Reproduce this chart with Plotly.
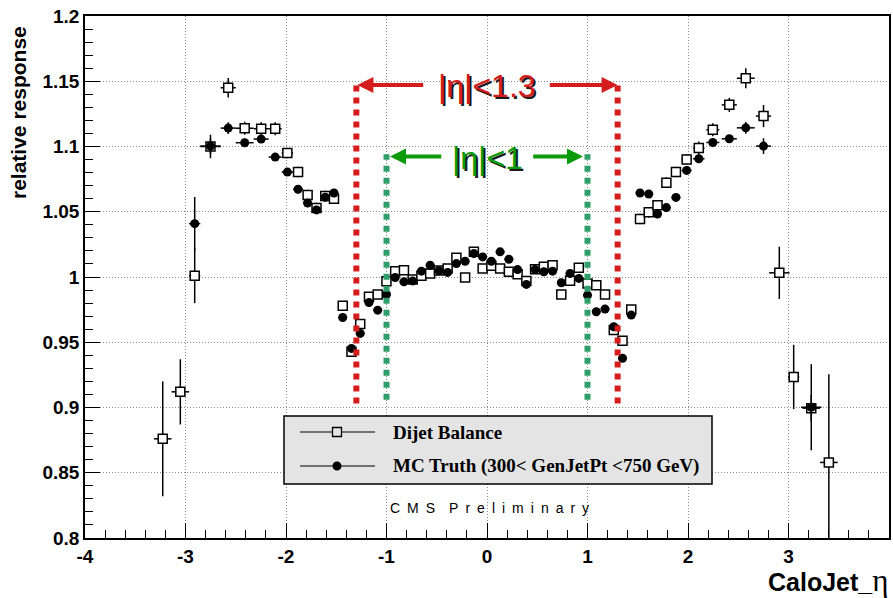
import plotly.graph_objects as go

# ---------------- data ----------------
eta_db = [-3.2265, -3.0515, -2.9085, -2.7515, -2.575, -2.411, -2.247, -2.1075, -1.9865, -1.88,
          -1.785, -1.6965, -1.6095, -1.5225, -1.4355, -1.3485, -1.2615, -1.1745, -1.0875, -1.0005,
          -0.9135, -0.8265, -0.7395, -0.6525, -0.5655, -0.4785, -0.3915, -0.3045, -0.2175, -0.1305,
          -0.0435, 0.0435, 0.1305, 0.2175, 0.3045, 0.3915, 0.4785, 0.5655, 0.6525, 0.7395,
          0.8265, 0.9135, 1.0005, 1.0875, 1.1745, 1.2615, 1.3485, 1.4355, 1.5225, 1.6095,
          1.6965, 1.785, 1.88, 1.9865, 2.1075, 2.247, 2.411, 2.575, 2.7515, 2.9085,
          3.0515, 3.2265, 3.4015]
resp_db = [0.876, 0.912, 1.001, 1.100, 1.145, 1.114, 1.1136, 1.1136, 1.095, 1.0804,
           1.0628, 1.0529, 1.0621, 1.060, 0.978, 0.9428, 0.9639, 0.9849, 0.9866, 0.9968,
           1.0045, 1.0052, 0.9981, 1.001, 1.0027, 1.005, 1.0065, 1.0147, 0.9996, 1.0193,
           1.0065, 1.0086, 1.0065, 1.004, 1.0022, 0.997, 1.006, 1.0078, 1.009, 0.9866,
           0.9971, 1.0071, 0.995, 0.9937, 0.9866, 0.9593, 0.9512, 0.9751, 1.0445, 1.0496,
           1.0549, 1.0723, 1.0804, 1.0901, 1.0988, 1.1128, 1.1319, 1.1523, 1.1233, 1.0032,
           0.9234, 0.8995, 0.8579]
err_db = [0.044, 0.025, 0.021, 0.009, 0.0074, 0.005, 0.005, 0.005, 0.004, 0.004,
          0.004, 0.004, 0.004, 0.004, 0.003, 0.003, 0.003, 0.003, 0.003, 0.003,
          0.003, 0.003, 0.003, 0.003, 0.003, 0.003, 0.003, 0.003, 0.003, 0.003,
          0.003, 0.003, 0.003, 0.003, 0.003, 0.003, 0.003, 0.003, 0.003, 0.003,
          0.003, 0.003, 0.003, 0.003, 0.003, 0.003, 0.003, 0.003, 0.004, 0.004,
          0.004, 0.004, 0.004, 0.004, 0.005, 0.005, 0.0054, 0.0077, 0.0085, 0.020,
          0.0246, 0.010, 0.0676]
xerr_db = [0.0875, 0.0875, 0.0555, 0.1015, 0.075, 0.089, 0.075, 0.0645, 0.0565, 0.05,
           0.045] + [0.0435] * 41 + [0.045, 0.05, 0.0565, 0.0645, 0.075, 0.089, 0.075, 0.1015,
           0.0555, 0.0875, 0.0875, 0.0875]

eta_mc = [-2.9085, -2.7515, -2.575, -2.411, -2.247, -2.1075, -1.9865, -1.88, -1.785, -1.6965,
          -1.6095, -1.5225, -1.4355, -1.3485, -1.2615, -1.1745, -1.0875, -1.0005, -0.9135, -0.8265,
          -0.7395, -0.6525, -0.5655, -0.4785, -0.3915, -0.3045, -0.2175, -0.1305, -0.0435, 0.0435,
          0.1305, 0.2175, 0.3045, 0.3915, 0.4785, 0.5655, 0.6525, 0.7395, 0.8265, 0.9135,
          1.0005, 1.0875, 1.1745, 1.2615, 1.3485, 1.4355, 1.5225, 1.6095, 1.6965, 1.785,
          1.88, 1.9865, 2.1075, 2.247, 2.411, 2.575, 2.7515, 3.2265]
resp_mc = [1.0409, 1.1003, 1.1141, 1.1029, 1.1057, 1.0919, 1.0804, 1.0672, 1.0567, 1.0514,
           1.0611, 1.0644, 0.969, 0.9453, 0.9568, 0.9805, 0.9746, 0.9866, 0.9996, 0.9963,
           0.997, 1.0045, 1.009, 1.0048, 1.0035, 1.0103, 1.0121, 1.018, 1.0154, 1.0121,
           1.0193, 1.0136, 1.0057, 0.9943, 1.0057, 1.004, 1.0045, 0.9956, 1.0027, 0.9989,
           0.9861, 0.9734, 0.9754, 0.9619, 0.9377, 0.9708, 1.0644, 1.0636, 1.0483, 1.0532,
           1.061, 1.0817, 1.0906, 1.1031, 1.1059, 1.1143, 1.1003, 0.9002]
err_mc = [0.0204, 0.006, 0.0045, 0.003, 0.003, 0.003, 0.003, 0.003, 0.003, 0.003,
          0.003, 0.003, 0.002, 0.002, 0.002, 0.002, 0.002, 0.002, 0.002, 0.002,
          0.002, 0.002, 0.002, 0.002, 0.002, 0.002, 0.002, 0.002, 0.002, 0.002,
          0.002, 0.002, 0.002, 0.002, 0.002, 0.002, 0.002, 0.002, 0.002, 0.002,
          0.002, 0.002, 0.002, 0.002, 0.002, 0.002, 0.003, 0.003, 0.003, 0.003,
          0.003, 0.003, 0.003, 0.003, 0.003, 0.0045, 0.006, 0.033]
xerr_mc = [0.0555, 0.1015, 0.075, 0.089, 0.075, 0.0645, 0.0565, 0.05, 0.045] + [0.0435] * 41 + \
          [0.045, 0.05, 0.0565, 0.0645, 0.075, 0.089, 0.075, 0.1015, 0.0875]

x_ticks = [-4, -3, -2, -1, 0, 1, 2, 3, 4]
x_tick_text = ["-4", "-3", "-2", "-1", "0", "1", "2", "3", "4"]
y_ticks = [0.8, 0.85, 0.9, 0.95, 1.0, 1.05, 1.1, 1.15, 1.2]
y_tick_text = ["0.8", "0.85", "0.9", "0.95", "1", "1.05", "1.1", "1.15", "1.2"]

eta_cut_wide = 1.3
eta_cut_narrow = 1.0
leg_labels = ["Dijet Balance", "MC Truth (300< GenJetPt <750 GeV)"]

# ---------------- figure ----------------
W, H = 893, 598
ML, MR, MT, MB = 85, 4, 16, 60
PW, PH = W - ML - MR, H - MT - MB


def px(xp):
    return (xp - ML) / PW


def py(yp):
    return (H - MB - yp) / PH


RED = "#d41c1c"
GREEN_LINE = "#2f9e6a"
GREEN = "#0a9a0a"

fig = go.Figure()

fig.add_trace(go.Scatter(
    x=eta_db, y=resp_db, mode="markers", name=leg_labels[0], showlegend=False,
    marker=dict(symbol="square", size=9, color="white", line=dict(color="black", width=1.5)),
    error_y=dict(type="data", array=err_db, color="black", thickness=1.5, width=0),
    error_x=dict(type="data", array=xerr_db, color="black", thickness=1.5, width=0),
))
fig.add_trace(go.Scatter(
    x=eta_mc, y=resp_mc, mode="markers", name=leg_labels[1], showlegend=False,
    marker=dict(symbol="circle", size=9, color="black", line=dict(color="black", width=0)),
    error_y=dict(type="data", array=err_mc, color="black", thickness=1.5, width=0),
    error_x=dict(type="data", array=xerr_mc, color="black", thickness=1.5, width=0),
))

shapes = []
# dashed cut lines
for s in (-1, 1):
    shapes.append(dict(type="line", xref="x", yref="y", x0=s * eta_cut_wide, x1=s * eta_cut_wide,
                       y0=0.903, y1=1.147, line=dict(color=RED, width=6, dash="6px,6px")))
    shapes.append(dict(type="line", xref="x", yref="y", x0=s * eta_cut_narrow, x1=s * eta_cut_narrow,
                       y0=0.906, y1=1.094, line=dict(color=GREEN_LINE, width=6, dash="6px,6px")))

# legend box
shapes.append(dict(type="rect", xref="paper", yref="paper", x0=px(284), x1=px(712), y0=py(484), y1=py(416),
                   fillcolor="#e4e4e4", line=dict(color="black", width=1.5), layer="above"))
for yy in (432, 466):
    shapes.append(dict(type="line", xref="paper", yref="paper", x0=px(300), x1=px(375), y0=py(yy), y1=py(yy),
                       line=dict(color="black", width=1.2), layer="above"))
shapes.append(dict(type="rect", xref="paper", yref="paper", xsizemode="pixel", ysizemode="pixel",
                   xanchor=px(337), yanchor=py(432), x0=-4.5, x1=4.5, y0=-4.5, y1=4.5,
                   fillcolor="#e4e4e4", line=dict(color="black", width=1.3), layer="above"))
shapes.append(dict(type="circle", xref="paper", yref="paper", xsizemode="pixel", ysizemode="pixel",
                   xanchor=px(337), yanchor=py(466), x0=-4.5, x1=4.5, y0=-4.5, y1=4.5,
                   fillcolor="black", line=dict(color="black", width=0), layer="above"))

annotations = []
# arrows
arrow_common = dict(xref="x", yref="y", axref="x", ayref="y", text="", showarrow=True,
                    arrowhead=2, arrowsize=0.8, arrowwidth=4, standoff=0, startstandoff=0)
annotations += [
    dict(x=-1.29, y=1.1472, ax=-0.62, ay=1.1472, arrowcolor=RED, **arrow_common),
    dict(x=1.30, y=1.1472, ax=0.61, ay=1.1472, arrowcolor=RED, **arrow_common),
    dict(x=-0.965, y=1.0923, ax=-0.44, ay=1.0923, arrowcolor=GREEN, **arrow_common),
    dict(x=0.955, y=1.0923, ax=0.445, ay=1.0923, arrowcolor=GREEN, **arrow_common),
]
annotations += [
    dict(x=0.0, y=1.1462, xref="x", yref="y", text="|η|<1.3", showarrow=False,
         font=dict(family="Liberation Sans, Arial", size=32, color=RED, shadow="2px 2px 0px #1a1a1a")),
    dict(x=0.0, y=1.0915, xref="x", yref="y", text="|η|<1", showarrow=False,
         font=dict(family="Liberation Sans, Arial", size=32, color=GREEN, shadow="2px 2px 0px #1a1a1a")),
]
# legend text
for lab, yy in zip(leg_labels, (432, 466)):
    annotations.append(dict(x=px(391), y=py(yy), xref="paper", yref="paper", xanchor="left", yanchor="middle",
                            text=lab, showarrow=False,
                            font=dict(family="Liberation Serif, Times New Roman", size=19, color="black",
                                      weight="bold")))
# CMS Preliminary (letter-spaced)
ES = "\u2002"
cms_text = ES.join(list("CMS")) + ES + ES + ES.join(list("Preliminary"))
annotations.append(dict(x=px(490), y=py(508), xref="paper", yref="paper", xanchor="center", yanchor="middle",
                        text=cms_text, showarrow=False,
                        font=dict(family="Liberation Sans, Arial", size=14, color="black")))
# axis titles
annotations.append(dict(x=px(890), y=py(580), xref="paper", yref="paper", xanchor="right", yanchor="middle",
                        text="CaloJet_<span style='font-family:Liberation Serif;font-weight:normal;font-size:31px'>η</span>",
                        showarrow=False,
                        font=dict(family="Liberation Sans, Arial", size=25, color="black", weight="bold")))
annotations.append(dict(x=px(18), y=py(113), xref="paper", yref="paper", xanchor="center", yanchor="middle",
                        text="relative response", showarrow=False, textangle=-90,
                        font=dict(family="Liberation Sans, Arial", size=21, color="black", weight="bold")))

axis_common = dict(showline=True, linecolor="black", linewidth=1.5, mirror=True, automargin=False,
                   ticks="inside", ticklen=15, tickwidth=1.2, tickcolor="black",
                   showgrid=True, gridcolor="#8a8a8a", griddash="1px,2px", gridwidth=1,
                   zeroline=False,
                   tickfont=dict(family="Liberation Sans, Arial", size=19, color="black", weight="bold"))

fig.update_layout(
    width=W, height=H, margin=dict(l=ML, r=MR, t=MT, b=MB, autoexpand=False),
    paper_bgcolor="white", plot_bgcolor="white",
    showlegend=False,
    xaxis=dict(range=[-4, 4], tickvals=x_ticks, ticktext=x_tick_text,
               minor=dict(ticks="inside", ticklen=8, dtick=0.2, tick0=-4, tickcolor="black", showgrid=False),
               **axis_common),
    yaxis=dict(range=[0.8, 1.2], tickvals=y_ticks, ticktext=y_tick_text,
               minor=dict(ticks="inside", ticklen=8, dtick=0.01, tick0=0.8, tickcolor="black", showgrid=False),
               **axis_common),
    shapes=shapes, annotations=annotations,
)

fig.write_html("out.html", config={"displayModeBar": False},
               post_script="document.body.style.margin='0px';document.body.style.overflow='hidden';")
